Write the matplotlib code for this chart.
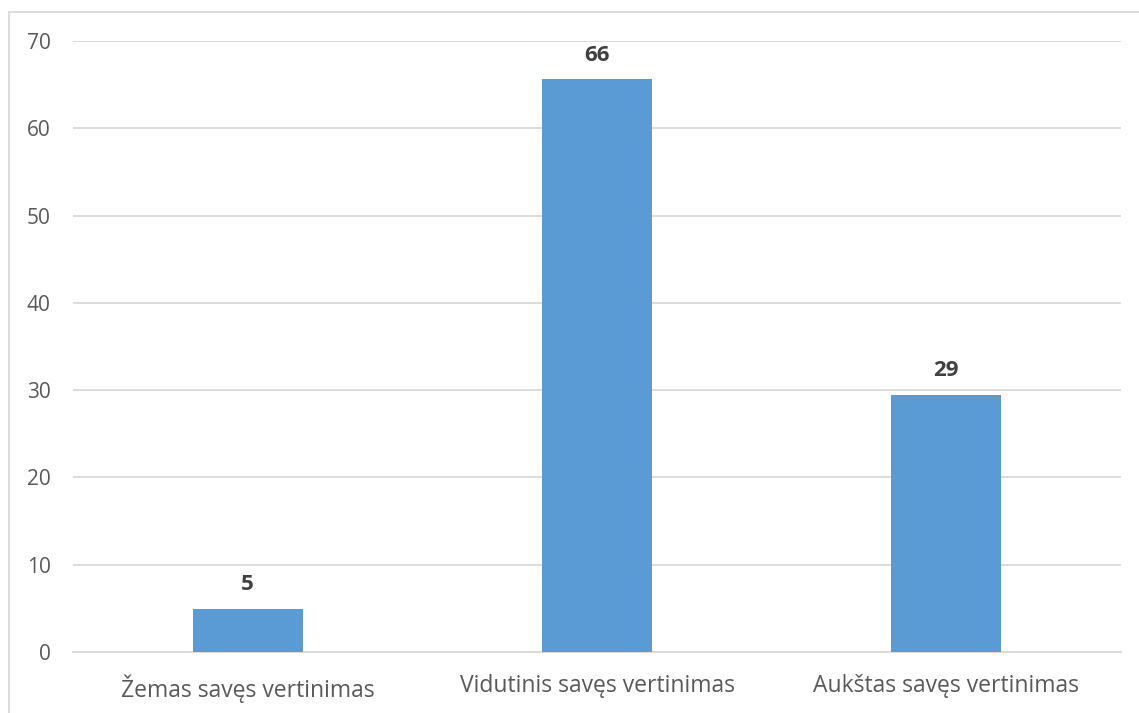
import matplotlib
matplotlib.use("Agg")
import matplotlib.pyplot as plt
from matplotlib.patches import Rectangle

categories = ["Žemas savęs vertinimas", "Vidutinis savęs vertinimas", "Aukštas savęs vertinimas"]
values = [4.9, 65.6, 29.4]
labels = ["5", "66", "29"]
yticks = [0, 10, 20, 30, 40, 50, 60, 70]

plt.rcParams['font.family'] = ['Open Sans', 'DejaVu Sans']

W, H = 1139, 713
fig = plt.figure(figsize=(W/100, H/100), dpi=100)
ax = fig.add_axes([73/W, 1-652/H, (1121-73)/W, (652-41)/H])

x = list(range(len(categories)))
ax.bar(x, values, width=0.315, color="#5B9BD5", zorder=3)
for xi, v, lab in zip(x, values, labels):
    ax.annotate(lab, (xi, v), xytext=(0, 10), textcoords="offset points",
                ha="center", va="bottom", fontsize=16, fontweight="bold", color="#404040")

ax.set_xlim(-0.5, 2.5)
ax.set_ylim(0, 70)
ax.set_yticks(yticks)
ax.set_xticks(x)
ax.set_xticklabels(categories, fontsize=16.5, color="#595959")
ax.tick_params(axis="y", labelsize=15, colors="#595959", length=0, pad=16)
ax.tick_params(axis="x", length=0, pad=16)
ax.grid(axis="y", color="#D9D9D9", linewidth=1.3, zorder=0)
for s in ["top", "right", "left"]:
    ax.spines[s].set_visible(False)
ax.spines["bottom"].set_color("#D9D9D9")
ax.spines["bottom"].set_linewidth(1.3)

# outer chart border (top and left visible)
fig.add_artist(Rectangle((9/W, -0.01), 1.5, 1-12/H+0.01, transform=fig.transFigure,
                         fill=False, edgecolor="#D9D9D9", linewidth=1.3))

fig.savefig("out.png", dpi=100)
